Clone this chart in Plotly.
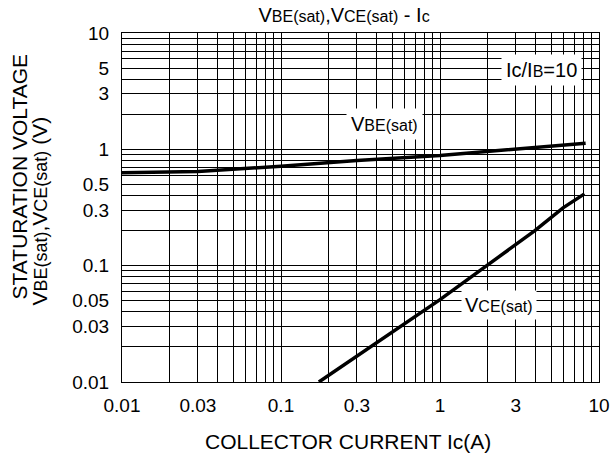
import plotly.graph_objects as go

ic_vbe = [0.01, 0.03, 0.1, 0.3, 1, 3, 8.24]
vbe = [0.63, 0.645, 0.716, 0.80, 0.885, 1.01, 1.13]

ic_vce = [0.173, 0.42, 1, 1.79, 3.95, 5.94, 8.1]
vce = [0.01, 0.0227, 0.051, 0.091, 0.2, 0.314, 0.414]

x_labels = {0.01: "0.01", 0.03: "0.03", 0.1: "0.1", 0.3: "0.3", 1: "1", 3: "3", 10: "10"}
y_labels = {0.01: "0.01", 0.03: "0.03", 0.05: "0.05", 0.1: "0.1", 0.3: "0.3", 0.5: "0.5",
            1: "1", 3: "3", 5: "5", 10: "10"}


def grid_vals(lo_exp, hi_exp):
    vals = []
    for e in range(lo_exp, hi_exp):
        for m in range(1, 10):
            vals.append(round(m * 10 ** e, 6))
    vals.append(round(10 ** hi_exp, 6))
    return vals


xv = grid_vals(-2, 1)
yv = grid_vals(-2, 1)
xt = [x_labels.get(v, "") for v in xv]
yt = [y_labels.get(v, "") for v in yv]

FONT = "Liberation Sans, Arial, sans-serif"


def sub(t, size):
    return "<span style='font-size:%dpx'>%s</span>" % (size, t)


fig = go.Figure()
fig.add_trace(go.Scatter(x=ic_vbe, y=vbe, mode="lines", line=dict(color="black", width=3.5)))
fig.add_trace(go.Scatter(x=ic_vce, y=vce, mode="lines", line=dict(color="black", width=3.5)))

lab_font = dict(size=20, color="black", family=FONT)
ctr = dict(xanchor="center", yanchor="middle", showarrow=False)
fig.add_annotation(x=0.551, y=0.738, xref="x domain", yref="y domain",
                   text="V" + sub("BE(sat)", 16), bgcolor="white",
                   borderpad=4, font=lab_font, **ctr)
fig.add_annotation(x=0.791, y=0.222, xref="x domain", yref="y domain",
                   text="V" + sub("CE(sat)", 16), bgcolor="white",
                   borderpad=3, font=lab_font, **ctr)
fig.add_annotation(x=0.879, y=0.895, xref="x domain", yref="y domain",
                   text="Ic/I" + sub("B", 16) + "=10", bgcolor="white",
                   borderpad=4, font=lab_font, **ctr)

# axis titles
fig.add_annotation(x=0.473, y=-0.170, xref="paper", yref="paper",
                   text="COLLECTOR CURRENT Ic(A)",
                   font=dict(size=21, color="black", family=FONT), **ctr)
fig.add_annotation(x=-0.216, y=0.589, xref="paper", yref="paper", textangle=-90,
                   text="STATURATION VOLTAGE",
                   font=dict(size=21, color="black", family=FONT), **ctr)
fig.add_annotation(x=-0.172, y=0.491, xref="paper", yref="paper", textangle=-90,
                   text="V" + sub("BE(sat)", 18) + ",V" + sub("CE(sat)", 18) + " (V)",
                   font=dict(size=21, color="black", family=FONT), **ctr)

fig.update_layout(
    width=610, height=457,
    margin=dict(l=122, r=11, t=33, b=75, autoexpand=False),
    paper_bgcolor="white", plot_bgcolor="white",
    showlegend=False,
    font=dict(family=FONT, color="black", size=19),
    title=dict(text="V" + sub("BE(sat)", 16) + ",V" + sub("CE(sat)", 16) + " - I" + sub("c", 16),
               x=0.564, xanchor="center", y=0.968, yanchor="middle",
               font=dict(size=20, family=FONT, color="black")),
)
fig.update_xaxes(type="log", range=[-2, 1], tickvals=xv, ticktext=xt, showgrid=True, automargin=False,
                 gridcolor="black", gridwidth=1, showline=True, linecolor="black", linewidth=1, mirror=True,
                 ticks="", zeroline=False, tickfont=dict(size=19), ticklabelstandoff=6)
fig.update_yaxes(type="log", range=[-2, 1], tickvals=yv, ticktext=yt, showgrid=True, automargin=False,
                 gridcolor="black", gridwidth=1, showline=True, linecolor="black", linewidth=1, mirror=True,
                 ticks="", zeroline=False, tickfont=dict(size=19), ticklabelstandoff=8)

fig.write_html("out.html", config={"displayModeBar": False},
               post_script="document.body.style.margin='0';document.body.style.overflow='hidden';")
